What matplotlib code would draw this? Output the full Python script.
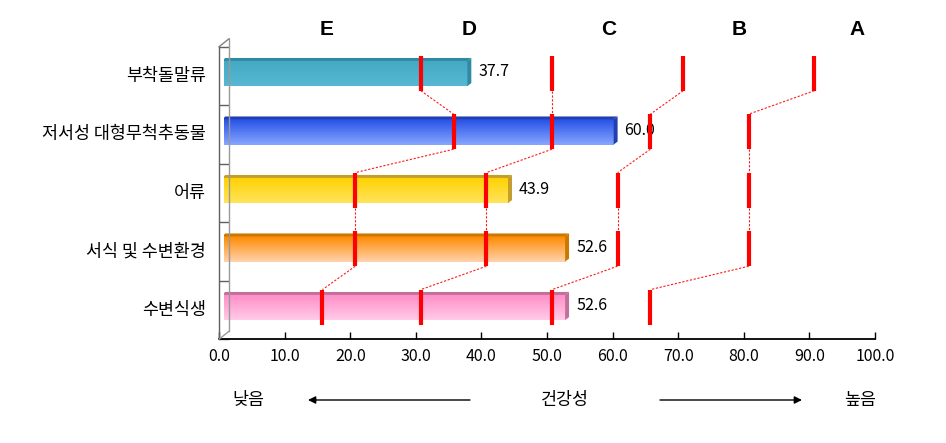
import numpy as np
import matplotlib
matplotlib.use('Agg')
import matplotlib.pyplot as plt
from matplotlib.patches import Polygon
from matplotlib.lines import Line2D
from matplotlib.transforms import IdentityTransform
from matplotlib.colors import LinearSegmentedColormap

plt.rcParams['font.family'] = ['Noto Sans CJK KR', 'DejaVu Sans']

# ---- data ----
categories = ['부착돌말류', '저서성 대형무척추동물', '어류', '서식 및 수변환경', '수변식생']
values = [37.7, 60.0, 43.9, 52.6, 52.6]
bounds = [[30, 50, 70, 90],
          [35, 50, 65, 80],
          [20, 40, 60, 80],
          [20, 40, 60, 80],
          [15, 30, 50, 65]]
grades = ['E', 'D', 'C', 'B', 'A']
grade_x = [15.7, 37.3, 58.6, 78.5, 96.5]
xticks = list(range(0, 101, 10))
bottom_texts = ['낮음', '건강성', '높음']

# bar colours: (top of face, bottom of face, edge/side)
bar_colors = [('#45a9c4', '#56b8d2', '#2f8aa3'),
              ('#2651e6', '#88a6ff', '#2040b0'),
              ('#ffd100', '#ffe45c', '#c39e2a'),
              ('#ff8a00', '#ffd2ad', '#c97800'),
              ('#ff8cc6', '#ffcbe8', '#c0709a')]

W, H = 946, 443
fig = plt.figure(figsize=(W / 100, H / 100), dpi=100)
fig.patch.set_facecolor('white')

x0px, x1px = 224, 880
ytop, ybot = 42.75, 335.25
DX, DY = 5, 4  # half depth of 3D effect, pixels

# front (frame) axes
front = fig.add_axes([(x0px - DX) / W, 1 - (ybot + DY) / H,
                      (x1px - x0px) / W, (ybot - ytop) / H])
front.patch.set_alpha(0)
front.set_xlim(0, 100)
front.set_ylim(len(categories) - 0.5, -0.5)
for s in ['top', 'right']:
    front.spines[s].set_visible(False)
front.spines['bottom'].set_color('black')
front.spines['bottom'].set_linewidth(1.3)
front.spines['left'].set_color('#606060')
front.spines['left'].set_linewidth(1.0)
front.set_xticks(xticks)
front.set_xticklabels([f'{t:.1f}' for t in xticks], fontsize=11.5)
front.tick_params(axis='x', direction='in', length=5, width=1, pad=6)
front.set_yticks(np.arange(-0.5, len(categories), 1.0))
front.set_yticklabels([''] * (len(categories) + 1))
front.tick_params(axis='y', which='major', direction='in', length=7, width=1, color='#606060')
front.yaxis.set_minor_locator(matplotlib.ticker.NullLocator())
for i, cat in enumerate(categories):
    front.annotate(cat, xy=(0, i), xycoords=('axes fraction', 'data'),
                   xytext=(-13, 0), textcoords='offset pixels',
                   ha='right', va='center', fontsize=12.5)

# main (data plane) axes
ax = fig.add_axes([x0px / W, 1 - ybot / H, (x1px - x0px) / W, (ybot - ytop) / H])
ax.patch.set_visible(False)
ax.set_xlim(0, 100)
ax.set_ylim(len(categories) - 0.5, -0.5)
ax.axis('off')

# back wall lines and 3D connectors (display coords)
def disp(x, y):
    return ax.transData.transform((x, y))

p_top = disp(0, -0.5)
p_bot = disp(0, len(categories) - 0.5)
ident = IdentityTransform()
fig.add_artist(Line2D([p_top[0] + DX, p_bot[0] + DX], [p_top[1] + DY, p_bot[1] + DY],
                      transform=ident, color='#9a9a9a', lw=1.0))
fig.add_artist(Line2D([p_top[0] - DX, p_top[0] + DX], [p_top[1] - DY, p_top[1] + DY],
                      transform=ident, color='#808080', lw=1.0))
fig.add_artist(Line2D([p_bot[0] - DX, p_bot[0] + DX], [p_bot[1] - DY, p_bot[1] + DY],
                      transform=ident, color='#9a9a9a', lw=1.0))

# bars
hh = 0.24      # half height
strip = 0.05   # top strip height
side = 0.6     # right side width (x units)
for i, (v, (ctop, cbot, cedge)) in enumerate(zip(values, bar_colors)):
    cmap = LinearSegmentedColormap.from_list('g%d' % i, [ctop, cbot])
    ax.imshow(np.linspace(0, 1, 64).reshape(-1, 1), cmap=cmap,
              extent=[-0.3, v - side, i + hh, i - hh + strip], aspect='auto',
              interpolation='bilinear', zorder=2)
    ax.add_patch(Polygon([(0.2, i - hh), (v, i - hh), (v - side, i - hh + strip),
                          (-0.3, i - hh + strip)], closed=True, facecolor=cedge,
                         edgecolor='none', zorder=2.1))
    ax.add_patch(Polygon([(v - side, i - hh + strip), (v, i - hh), (v, i + hh - strip),
                          (v - side, i + hh)], closed=True, facecolor=cedge,
                         edgecolor='none', zorder=2.1))
    ax.annotate(f'{v:.1f}', (v, i), xytext=(7, 0), textcoords='offset pixels',
                ha='left', va='center', fontsize=11.5, zorder=3)

ax.set_xlim(0, 100)
ax.set_ylim(len(categories) - 0.5, -0.5)

# red grade boundaries and dashed connectors
mh = 0.3
for i, row in enumerate(bounds):
    ax.vlines(row, i - mh + 0.02, i + mh + 0.02, colors='#ff0000', lw=3.0, zorder=5)
for i in range(len(bounds) - 1):
    for k in range(len(bounds[i])):
        ax.plot([bounds[i][k], bounds[i + 1][k]], [i + mh + 0.02, i + 1 - mh + 0.02],
                color='#ff1a1a', lw=0.8, ls=(0, (2, 1.5)), zorder=4, clip_on=False)

# grade letters
for g, gx in zip(grades, grade_x):
    ax.text(gx, -0.735, g, ha='center', va='center', fontsize=15, fontweight='bold',
            family='Liberation Sans', clip_on=False)

# bottom annotation
ytxt = 1 - 400 / H
fig.text(248 / W, ytxt, bottom_texts[0], ha='center', va='center', fontsize=12.5)
fig.text(565 / W, ytxt, bottom_texts[1], ha='center', va='center', fontsize=12.5)
fig.text(860 / W, ytxt, bottom_texts[2], ha='center', va='center', fontsize=12.5)
arrow_kw = dict(arrowstyle='-|>', color='black', lw=1.0, mutation_scale=11,
                shrinkA=0, shrinkB=0)
ax.annotate('', xy=(308 / W, ytxt), xytext=(470 / W, ytxt),
            xycoords='figure fraction', textcoords='figure fraction', arrowprops=arrow_kw)
ax.annotate('', xy=(802 / W, ytxt), xytext=(660 / W, ytxt),
            xycoords='figure fraction', textcoords='figure fraction', arrowprops=arrow_kw)

fig.savefig('out.png', dpi=100, facecolor='white')
